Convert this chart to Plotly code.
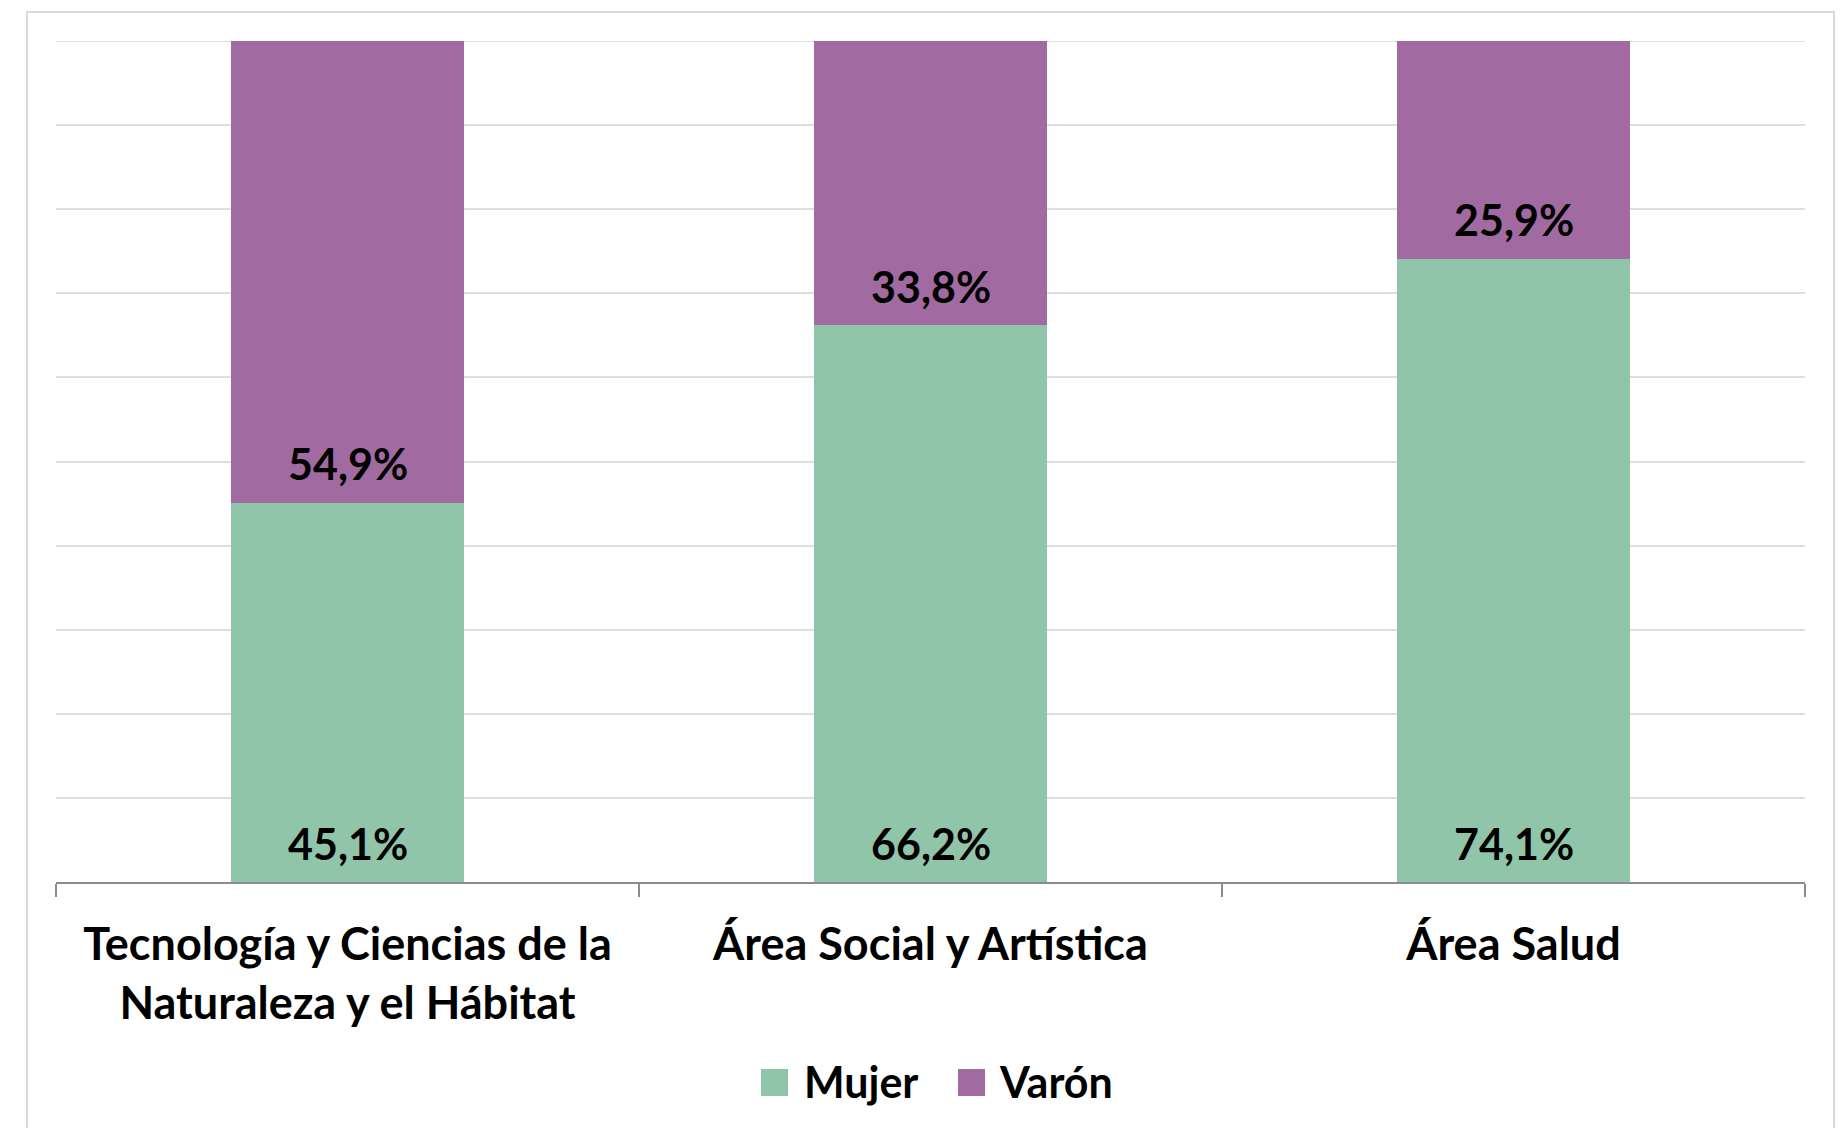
import plotly.graph_objects as go

categories = ["Tecnología y Ciencias de la<br>Naturaleza y el Hábitat", "Área Social y Artística", "Área Salud"]
series_names = ["Mujer", "Varón"]
mujer = [45.1, 66.2, 74.1]
varon = [54.9, 33.8, 25.9]
colors = ["#91C5AA", "#A16AA1"]

W, H = 1840, 1128
ML, MR, MT, MB = 56, 35, 41, 246
PW, PH = W - ML - MR, H - MT - MB

FONT = "Lato, 'Open Sans', sans-serif"
FS = 43
TFS = 45

fig = go.Figure()
bases = [[0, 0, 0], mujer]
annotations = []
for name, vals, col, base in zip(series_names, [mujer, varon], colors, bases):
    fig.add_trace(go.Bar(
        x=categories, y=vals, name=name, marker=dict(color=col, line=dict(width=0)),
        showlegend=False, hoverinfo="x+y+name",
    ))
    # data labels at the inside base of each segment
    for c, v, b in zip(categories, vals, base):
        annotations.append(dict(x=c, y=b, xref="x", yref="y", text=f"{v:.1f}%".replace(".", ","),
                                showarrow=False, yanchor="middle", yshift=39,
                                font=dict(family=FONT, size=FS, color="black", weight="bold")))

def px_x(p):
    return (p - ML) / PW

def px_y(p):
    return (H - MB - p) / PH

shapes = [
    # outer chart border
    dict(type="rect", xref="paper", yref="paper", x0=px_x(27), x1=px_x(1834), y0=px_y(1140), y1=px_y(12),
         line=dict(color="#D9D9D9", width=2), fillcolor="rgba(0,0,0,0)", layer="below"),
    # top gridline at 100%
    dict(type="line", xref="paper", yref="y", x0=0, x1=1, y0=100, y1=100,
         line=dict(color="#DEDEDE", width=2), layer="below"),
]
# manual legend (large swatches like the original)
legend_pos = [(761, 802), (958, 997)]
for (sx, tx), name, col in zip(legend_pos, series_names, colors):
    shapes.append(dict(type="rect", xref="paper", yref="paper", x0=px_x(sx), x1=px_x(sx + 27),
                       y0=px_y(1096), y1=px_y(1069), fillcolor=col, line=dict(width=0)))
    annotations.append(dict(xref="paper", yref="paper", x=px_x(tx), y=px_y(1081), text=name,
                            showarrow=False, xanchor="left", yanchor="middle",
                            font=dict(family=FONT, size=FS, color="black", weight="bold")))

fig.update_layout(
    width=W, height=H, barmode="stack", bargap=0.6,
    margin=dict(l=ML, r=MR, t=MT, b=MB, pad=0),
    paper_bgcolor="white", plot_bgcolor="white",
    separators=",.",
    font=dict(family=FONT, size=FS, color="black"),
    shapes=shapes, annotations=annotations,
    xaxis=dict(showline=True, linecolor="#8C8C8C", linewidth=2, ticks="outside", tickson="boundaries",
               ticklen=13, tickcolor="#8C8C8C", tickwidth=2, ticklabelstandoff=22,
               tickfont=dict(family=FONT, size=TFS, color="black", weight="bold"),
               showgrid=False, zeroline=False),
    yaxis=dict(range=[0, 100], dtick=10, showticklabels=False, showgrid=True, gridcolor="#DEDEDE",
               gridwidth=2, zeroline=False, showline=False),
)

fig.write_html("out.html", config={"displayModeBar": False},
               post_script="document.body.style.margin='0';document.body.style.overflow='hidden';")
